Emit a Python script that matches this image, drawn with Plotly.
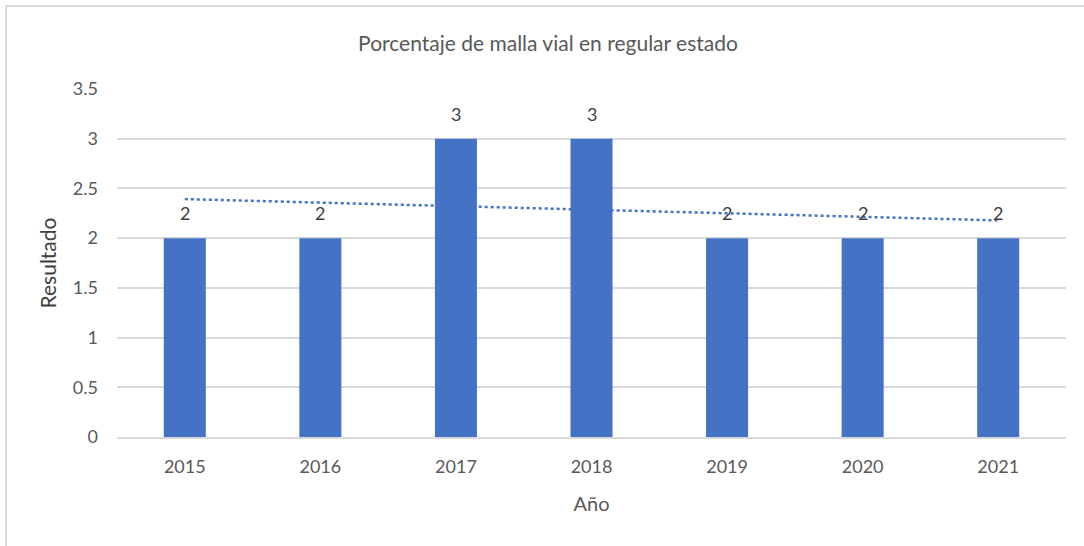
import numpy as np
import plotly.graph_objects as go

# Yearly results
years = ["2015", "2016", "2017", "2018", "2019", "2020", "2021"]
values = [2, 2, 3, 3, 2, 2, 2]

# Linear trend fitted over the year index
idx = np.arange(1, len(values) + 1)
slope, intercept = np.polyfit(idx, values, 1)
trend = slope * idx + intercept

BAR = "#4472C4"
TXT = "#595959"
GRID = "#D9D9D9"
FONT = "Lato"

fig = go.Figure()
fig.add_trace(go.Bar(
    x=years, y=values, marker=dict(color=BAR, line=dict(width=0)),
    showlegend=False, hoverinfo="x+y",
))
fig.add_trace(go.Scatter(
    x=years, y=trend, mode="lines",
    line=dict(color=BAR, width=2.5, dash="dot"),
    showlegend=False, hoverinfo="skip",
))

W, H = 1084, 546
ml, mr, mt, mb = 117, 18, 89, 109
pw, ph = W - ml - mr, H - mt - mb

def px(x):
    return (x - ml) / pw

def py(y):
    return (H - mb - y) / ph

# value labels sitting above each bar
labels = [
    dict(x=i, y=v, text=str(v), showarrow=False, xref="x", yref="y",
         yanchor="middle", yshift=25,
         font=dict(family=FONT, size=18, color="#404040"))
    for i, v in enumerate(values)
]

fig.update_layout(
    width=W, height=H,
    margin=dict(l=ml, r=mr, t=mt, b=mb),
    paper_bgcolor="white", plot_bgcolor="white",
    bargap=0.69,
    font=dict(family=FONT, color=TXT),
    title=dict(text="Porcentaje de malla vial en regular estado",
               x=548 / W, xref="container", xanchor="center",
               y=1 - 44 / H, yanchor="middle",
               font=dict(family=FONT, size=21, color=TXT)),
    xaxis=dict(
        type="category",
        title=dict(text="Año", font=dict(family=FONT, size=20, color=TXT), standoff=21),
        tickfont=dict(family=FONT, size=18, color=TXT),
        showgrid=False, showline=True, linecolor=GRID, linewidth=1.5,
        ticks="", ticklabelstandoff=13,
    ),
    yaxis=dict(
        title=dict(text="Resultado", font=dict(family=FONT, size=21, color="#404040"), standoff=10),
        range=[0, 3.5], dtick=0.5,
        tickfont=dict(family=FONT, size=18, color=TXT),
        showgrid=True, gridcolor=GRID, gridwidth=1.5,
        zeroline=False, showline=False, ticks="", ticklabelstandoff=18,
    ),
    annotations=labels,
    shapes=[
        # chart frame (top and left edges)
        dict(type="line", xref="paper", yref="paper",
             x0=px(6), x1=px(W + 5), y0=py(6), y1=py(6),
             line=dict(color=GRID, width=2)),
        dict(type="line", xref="paper", yref="paper",
             x0=px(6), x1=px(6), y0=py(6), y1=py(H + 5),
             line=dict(color=GRID, width=2)),
    ],
)

fig.write_html("out.html")
